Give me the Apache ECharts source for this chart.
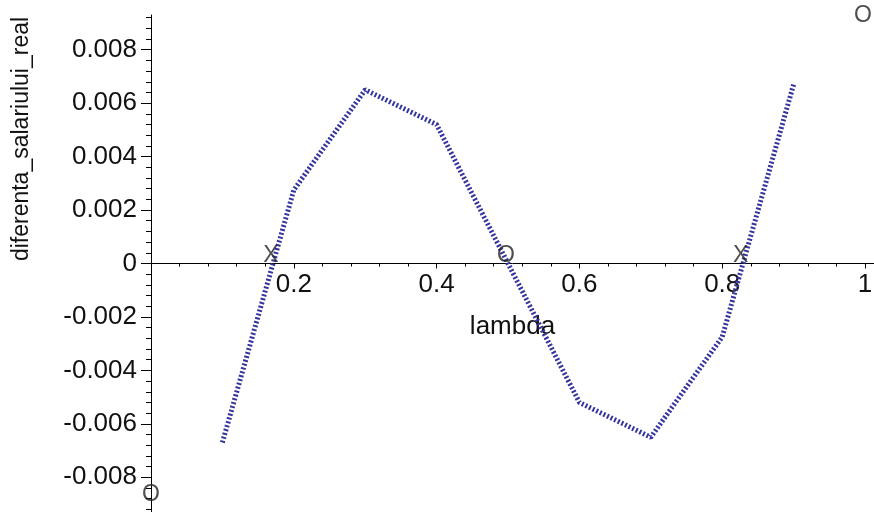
<!DOCTYPE html>
<html>
<head>
<meta charset="utf-8">
<script src="https://cdn.jsdelivr.net/npm/echarts@6/dist/echarts.min.js"></script>
<style>html,body{margin:0;padding:0;background:#fff}#c{width:874px;height:512px}</style>
</head>
<body>
<div id="c"></div>
<script>
// ---- data ----
var lambda = [0.1, 0.2, 0.3, 0.4, 0.5, 0.6, 0.7, 0.8, 0.9];
var diferenta = [-0.0067, 0.00275, 0.0065, 0.0052, 0, -0.0052, -0.0065, -0.00275, 0.0067];
var markLambda = [0.168, 0.497, 0.826, 0.997, 0];
var markValue = [0.0003, 0.0003, 0.0003, 0.00926, -0.00864];
var markText = ['X', 'O', 'X', 'O', 'O'];
var xTickLabels = [0.2, 0.4, 0.6, 0.8, 1];
var yTickLabels = [-0.008, -0.006, -0.004, -0.002, 0, 0.002, 0.004, 0.006, 0.008];
var xTitle = 'lambda';
var yTitle = 'diferenta_salariului_real';

var xMinor = [];
for (var k = 1; k <= 25; k++) if (k % 5) xMinor.push(+(k * 0.04).toFixed(4));
var yMinor = [];
for (var j = -23; j <= 23; j++) if (j % 5) yMinor.push(+(j * 0.0004).toFixed(5));

var FONT = 'Liberation Sans';
var X_MIN = 0, X_MAX = 1.0126, Y_MIN = -0.0093, Y_MAX = 0.0093;
var GRID_TOP = 15, GRID_BOTTOM = 0;
var H = 512 - GRID_TOP - GRID_BOTTOM;
// place x axis where y = 0 (offset from grid bottom, negative moves inward)
var X_OFFSET = -H * (0 - Y_MIN) / (Y_MAX - Y_MIN);

var chart = echarts.init(document.getElementById('c'), null, {renderer: 'canvas'});
var baseX = {
  type: 'value', min: X_MIN, max: X_MAX, splitLine: {show: false}, position: 'bottom', offset: X_OFFSET,
  axisLine: {onZero: false, lineStyle: {color: '#000', width: 1}}
};
var baseY = {
  type: 'value', min: Y_MIN, max: Y_MAX, splitLine: {show: false}, position: 'left'
};
chart.setOption({
  animation: false,
  backgroundColor: '#fff',
  grid: {left: 151, right: 0, top: GRID_TOP, bottom: GRID_BOTTOM, containLabel: false, outerBoundsMode: 'none'},
  xAxis: [
    Object.assign({}, baseX, {
      name: xTitle, nameLocation: 'middle', nameGap: 50,
      nameTextStyle: {fontFamily: FONT, fontSize: 26, color: '#111'},
      axisTick: {show: true, length: 5, inside: false, customValues: xTickLabels, lineStyle: {color: '#000'}},
      axisLabel: {show: true, customValues: xTickLabels, margin: 8, fontFamily: FONT, fontSize: 26, color: '#111',
        formatter: function (v) { return v === 1 ? '1' : v.toFixed(1); }}
    }),
    Object.assign({}, baseX, {
      axisLine: {show: false, onZero: false},
      axisTick: {show: true, length: 3, customValues: xMinor, lineStyle: {color: '#000'}},
      axisLabel: {show: false}
    })
  ],
  yAxis: [
    Object.assign({}, baseY, {
      axisLine: {show: true, onZero: false, lineStyle: {color: '#000', width: 1}},
      axisTick: {show: true, length: 10, customValues: yTickLabels, lineStyle: {color: '#000'}},
      axisLabel: {show: true, customValues: yTickLabels, margin: 14, fontFamily: FONT, fontSize: 26, color: '#111',
        padding: [6, 0, 0, 0],
        formatter: function (v) { return v === 0 ? '0' : v.toFixed(3); }}
    }),
    Object.assign({}, baseY, {
      axisLine: {show: false, onZero: false},
      axisTick: {show: true, length: 5, customValues: yMinor, lineStyle: {color: '#000'}},
      axisLabel: {show: false}
    })
  ],
  graphic: [{
    type: 'text', x: 22, y: 139, rotation: Math.PI / 2,
    style: {text: yTitle, fontFamily: FONT, fontSize: 23, fill: '#111', align: 'center', verticalAlign: 'middle'}
  }],
  series: [
    {
      type: 'line', xAxisIndex: 0, yAxisIndex: 0,
      data: lambda.map(function (x, i) { return [x, diferenta[i]]; }),
      showSymbol: false, symbol: 'none',
      lineStyle: {color: '#34349e', width: 5, type: [2, 2], cap: 'butt'}
    },
    {
      type: 'scatter', xAxisIndex: 0, yAxisIndex: 0,
      data: markLambda.map(function (x, i) { return [x, markValue[i], markText[i]]; }),
      symbolSize: 0, itemStyle: {color: 'rgba(0,0,0,0)'},
      label: {show: true, position: 'inside', formatter: function (p) { return p.data[2]; },
        fontFamily: FONT, fontSize: 23, color: '#222'},
      z: 5
    }
  ]
});
</script>
</body>
</html>
